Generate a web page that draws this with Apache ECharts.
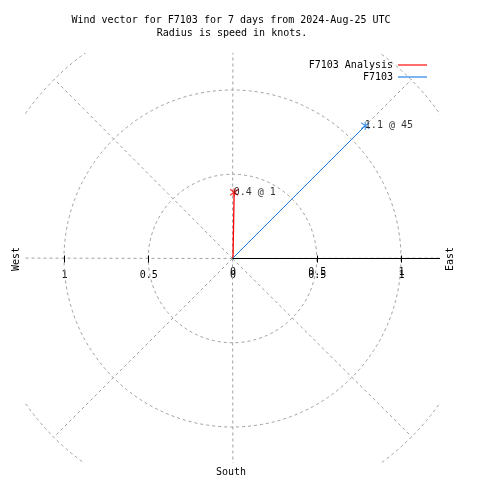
<!DOCTYPE html>
<html><head><meta charset="utf-8">
<script src="https://cdn.jsdelivr.net/npm/echarts@6/dist/echarts.min.js"></script>
<style>html,body{margin:0;padding:0;background:#fff}#c{width:480px;height:480px}</style>
</head><body><div id="c"></div>
<script>
const titleLines = ['Wind vector for F7103 for 7 days from 2024-Aug-25 UTC', 'Radius is speed in knots.'];
const seriesNames = ['F7103 Analysis', 'F7103'];
const seriesColors = ['#ff0000', '#1e7fe6'];
const speeds = [0.39, 1.11];
const directions = [1, 45];
const ringRadii = [0.5, 1, 1.5];
const spokeDirections = [0, 45, 90, 135, 180, 225, 270, 315];
const tickValues = [-1, -0.5, 0.5, 1];
const labelValues = [-1, -0.5, 0, 0.5, 1];
const labelValuesEast = [0, 0.5, 1];
const compassLabels = ['West', 'East', 'South'];

const FONT = 'DejaVu Sans Mono';
const GRAY = '#a0a0a0';
const STAR = 'path://M0,-4L0,4M-3.5,-3L3.5,3M-3.5,3L3.5,-3';
const X_MIN = -1.2344, X_MAX = 1.2285, Y_MIN = -1.2166, Y_MAX = 1.2166;
function toXY(s, d) { const r = d * Math.PI / 180; return [s * Math.sin(r), s * Math.cos(r)]; }
function crisp(v) { return Math.round(v - 0.5) + 0.5; }

const chart = echarts.init(document.getElementById('c'), null, {renderer: 'canvas'});

const gridSeries = {
  type: 'custom',
  silent: true,
  clip: true,
  z: 1,
  data: [[0, 0]],
  encode: {x: 0, y: 1},
  renderItem: function (params, api) {
    const cs = params.coordSys;
    const c = api.coord([0, 0]);
    const cx = crisp(c[0]), cy = crisp(c[1]);
    const children = [];
    const dash = {stroke: GRAY, lineWidth: 1, lineDash: [3, 3], fill: 'none'};
    ringRadii.forEach(function (R) {
      const r = api.size([R, 0])[0];
      children.push({type: 'circle', shape: {cx: cx, cy: cy, r: r}, style: dash});
    });
    const rMax = Math.max.apply(null, ringRadii);
    spokeDirections.forEach(function (d) {
      const p = api.coord(toXY(rMax, d));
      children.push({type: 'line', shape: {x1: cx, y1: cy, x2: p[0], y2: p[1]}, style: dash});
    });
    children.push({type: 'line', shape: {x1: cx, y1: cy, x2: cs.x + cs.width, y2: cy}, style: {stroke: '#000', lineWidth: 1}});
    tickValues.forEach(function (v) {
      const p = api.coord([v, 0]);
      const x = crisp(p[0]);
      children.push({type: 'line', shape: {x1: x, y1: cy - 3, x2: x, y2: cy + 4}, style: {stroke: '#000', lineWidth: 1}});
    });
    return {type: 'group', children: children};
  }
};

const vectorSeries = seriesNames.map(function (name, i) {
  return {
    type: 'line', name: name, z: 3,
    data: [[0, 0], toXY(speeds[i], directions[i])],
    symbol: 'none',
    lineStyle: {color: seriesColors[i], width: i === 0 ? 1.3 : 1},
    itemStyle: {color: seriesColors[i]}
  };
});

const pointSeries = seriesNames.map(function (name, i) {
  return {
    type: 'scatter', name: name + ' end', z: 4,
    data: [toXY(speeds[i], directions[i])],
    symbol: STAR, symbolSize: 8,
    itemStyle: {color: 'rgba(0,0,0,0)', borderColor: seriesColors[i], borderWidth: 1.2},
    label: {show: true, formatter: speeds[i].toFixed(1) + ' @ ' + directions[i], position: 'right', distance: -5,
      color: '#000', fontFamily: FONT, fontSize: 10}
  };
});

const gridRect = {left: 25, top: 53, width: 415, height: 410, containLabel: false};
// place the label axes on the zero line of the y scale
const zeroOffset = -gridRect.height * (0 - Y_MIN) / (Y_MAX - Y_MIN);

function makeXAxis(gridIndex, values, margin) {
  return {
    type: 'value', gridIndex: gridIndex, min: X_MIN, max: X_MAX, position: 'bottom', offset: zeroOffset,
    axisLine: {show: false, onZero: false},
    axisTick: {show: false}, splitLine: {show: false},
    axisLabel: {customValues: values, margin: margin, fontFamily: FONT, fontSize: 10, color: '#000',
      formatter: function (v) { return String(Math.abs(v)); }}
  };
}
function makeYAxis(gridIndex) {
  return {
    type: 'value', gridIndex: gridIndex, min: Y_MIN, max: Y_MAX,
    axisLine: {show: false}, axisTick: {show: false}, axisLabel: {show: false}, splitLine: {show: false}
  };
}
const legendIcon = 'path://M0,0L30,0L30,1.2L0,1.2Z';

chart.setOption({
  animation: false,
  backgroundColor: '#fff',
  grid: [Object.assign({}, gridRect), Object.assign({}, gridRect)],
  xAxis: [makeXAxis(0, labelValues, 12), makeXAxis(1, labelValuesEast, 9)],
  yAxis: [makeYAxis(0), makeYAxis(1)],
  legend: {
    data: seriesNames.map(function (n) { return {name: n, icon: legendIcon}; }),
    orient: 'vertical', align: 'right', right: 53, top: 60,
    itemWidth: 29, itemHeight: 12, itemGap: 2, padding: 0,
    textStyle: {fontFamily: FONT, fontSize: 10, color: '#000'}
  },
  graphic: [
    {type: 'text', x: 231, y: 20, style: {text: titleLines[0], font: '10px "' + FONT + '"', fill: '#000', align: 'center', verticalAlign: 'middle'}},
    {type: 'text', x: 232, y: 33, style: {text: titleLines[1], font: '10px "' + FONT + '"', fill: '#000', align: 'center', verticalAlign: 'middle'}},
    {type: 'text', x: 16, y: 259, rotation: Math.PI / 2, style: {text: compassLabels[0], font: '10px "' + FONT + '"', fill: '#000', align: 'center', verticalAlign: 'middle'}},
    {type: 'text', x: 450, y: 259, rotation: Math.PI / 2, style: {text: compassLabels[1], font: '10px "' + FONT + '"', fill: '#000', align: 'center', verticalAlign: 'middle'}},
    {type: 'text', x: 231, y: 472, style: {text: compassLabels[2], font: '10px "' + FONT + '"', fill: '#000', align: 'center', verticalAlign: 'middle'}}
  ],
  series: [gridSeries].concat(vectorSeries, pointSeries)
});
</script></body></html>
